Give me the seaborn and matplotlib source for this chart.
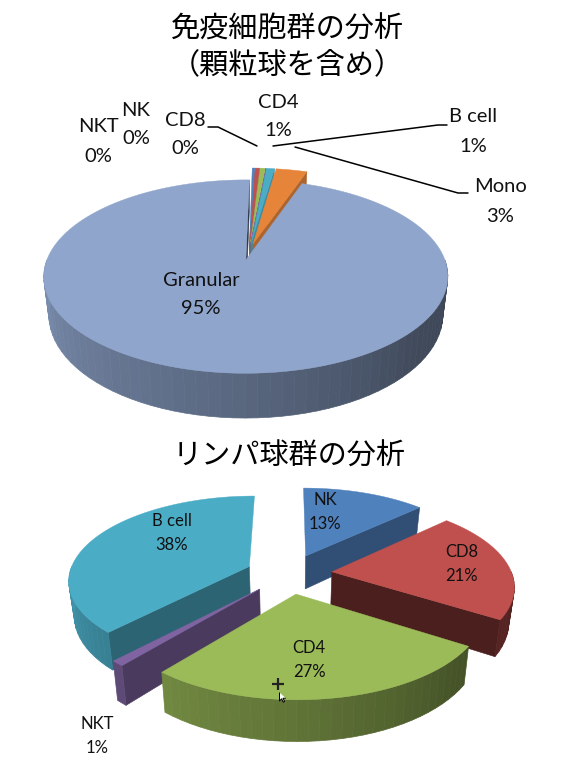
import matplotlib
matplotlib.use("Agg")
import matplotlib.pyplot as plt
import numpy as np
import seaborn as sns

# 上の円グラフ (顆粒球を含む)
top_names = ["NK", "CD8", "CD4", "NKT", "B cell", "Mono", "Granular"]
top_values = [0.26, 0.42, 0.54, 0.02, 0.76, 3.0, 95.0]
top_colors = ["#4f81bd", "#c0504d", "#9bbb59", "#8064a2", "#4bacc6", "#e6853a", "#8fa5cc"]

# 下の円グラフ (リンパ球のみ)
low_names = ["NK", "CD8", "CD4", "NKT", "B cell"]
low_values = [13, 21, 27, 1, 38]
low_colors = ["#4f81bd", "#c0504d", "#9bbb59", "#8064a2", "#4bacc6"]

sns.set_theme(style="white")
LATIN = ["Lato", "DejaVu Sans"]
plt.rcParams["font.family"] = ["Noto Sans CJK JP", "DejaVu Sans"]

fig = plt.figure(figsize=(5.75, 7.67), dpi=100)
ax = fig.add_axes([0, 0, 1, 1])
ax.set_xlim(0, 575)
ax.set_ylim(767, 0)
ax.axis("off")


def shade(color, f):
    return tuple(c * f for c in matplotlib.colors.to_rgb(color))


def pie3d(values, colors, cx, cy, R, a, H, k, explode, start=0.0, taper=0.025):
    """疑似3D円グラフ: 値から角度を出して透視投影で描く"""

    def project(X, Y, z=0.0):
        w = 1 + k * Y
        return cx + R * X / w * (1 - taper * z), cy - a * Y / w + H * z / w

    values = np.asarray(values, dtype=float)
    edges = start + 360 * np.concatenate([[0], np.cumsum(values) / values.sum()])
    slices = []
    for i in range(len(values)):
        t0, t1 = edges[i], edges[i + 1]
        mid = np.radians((t0 + t1) / 2)
        ox, oy = explode * np.sin(mid), explode * np.cos(mid)
        slices.append((project(ox, oy)[1], i, t0, t1, ox, oy))

    # 奥のスライスから順に描く
    for _, i, t0, t1, ox, oy in sorted(slices, key=lambda s: s[0]):
        col = colors[i]
        rim = lambda t: (ox + np.sin(np.radians(t)), oy + np.cos(np.radians(t)))

        # 側面の放射状の面
        for t, visible, f in [
            (t0, 180 < t0 % 360 < 360, 0.58),
            (t1, 0 < t1 % 360 < 180, np.interp(t1, [0, 50, 125, 180], [0.85, 0.6, 0.38, 0.35])),
        ]:
            if not visible:
                continue
            rx, ry = rim(t)
            xs = [project(ox, oy)[0], project(rx, ry)[0], project(rx, ry, 1)[0], project(ox, oy, 1)[0]]
            ys = [project(ox, oy)[1], project(rx, ry)[1], project(rx, ry, 1)[1], project(ox, oy, 1)[1]]
            ax.fill(xs, ys, color=shade(col, f), lw=0.4)

        # 外周の面 (手前側だけ)
        lo, hi = max(t0, 90), min(t1, 270)
        if hi > lo:
            ts = np.linspace(lo, hi, max(2, int((hi - lo) / 3) + 1))
            for ta, tb in zip(ts[:-1], ts[1:]):
                ax_, ay_ = rim(ta)
                bx_, by_ = rim(tb)
                f = np.interp((ta + tb) / 2, [90, 130, 180, 230, 270], [0.42, 0.45, 0.62, 0.76, 0.88])
                xs = [project(ax_, ay_)[0], project(bx_, by_)[0], project(bx_, by_, 1)[0], project(ax_, ay_, 1)[0]]
                ys = [project(ax_, ay_)[1], project(bx_, by_)[1], project(bx_, by_, 1)[1], project(ax_, ay_, 1)[1]]
                ax.fill(xs, ys, color=shade(col, f), lw=0.5)

        # 上面
        ts = np.linspace(t0, t1, max(3, int(t1 - t0) + 2))
        rx, ry = rim(ts)
        px, py = project(rx, ry)
        ax0, ay0 = project(ox, oy)
        ax.fill(np.r_[ax0, px], np.r_[ay0, py], color=col, lw=0.3)


pie3d(top_values, top_colors, cx=249, cy=251.7, R=196, a=91, H=36.5, k=0.17, explode=0.09, start=1.0)
pie3d(low_values, low_colors, cx=289, cy=573.7, R=180, a=83, H=34, k=0.15, explode=0.24)

# タイトル
ax.text(287, 30, "免疫細胞群の分析", fontsize=21, ha="center", va="center", color="black")
ax.text(287, 65, "（顆粒球を含め）", fontsize=21, ha="center", va="center", color="black")
ax.text(289, 457, "リンパ球群の分析", fontsize=21, ha="center", va="center", color="black")

# データラベル
top_pos = [(136, 110), (185, 120), (278, 102), (98, 127), (473, 117), (500, 187), (201, 280)]
for name, v, (x, y) in zip(top_names, top_values, top_pos):
    ax.text(x, y, name, fontsize=14.5, family=LATIN, ha="center", va="center", color="#111111")
    ax.text(x, y + 29, f"{round(v)}%", fontsize=14.5, family=LATIN, ha="center", va="center", color="#111111")

low_pos = [(325, 500), (462, 552), (309, 648), (97, 724), (172, 521)]
for name, v, (x, y) in zip(low_names, low_values, low_pos):
    ax.text(x, y, name, fontsize=12, family=LATIN, ha="center", va="center", color="#111111")
    ax.text(x, y + 24, f"{v}%", fontsize=12, family=LATIN, ha="center", va="center", color="#111111")

# 引き出し線
ax.plot([208, 218, 257], [127, 127, 146], color="black", lw=1.1)
ax.plot([273, 438, 447], [146, 125, 125], color="black", lw=1.1)
ax.plot([295, 458, 468], [147, 193, 193], color="black", lw=1.1)

# マウスカーソル
ax.plot([278], [684], marker="+", ms=8, mew=1.6, color="#222222")
arrow = [(0, 0), (0, 1.0), (0.25, 0.75), (0.45, 1.15), (0.6, 1.05), (0.42, 0.68), (0.75, 0.68)]
ax.plot([279], [692], marker=[(x, -y) for x, y in arrow], ms=14, mfc="white", mec="black", mew=0.7)

fig.savefig("out.png", dpi=100)
